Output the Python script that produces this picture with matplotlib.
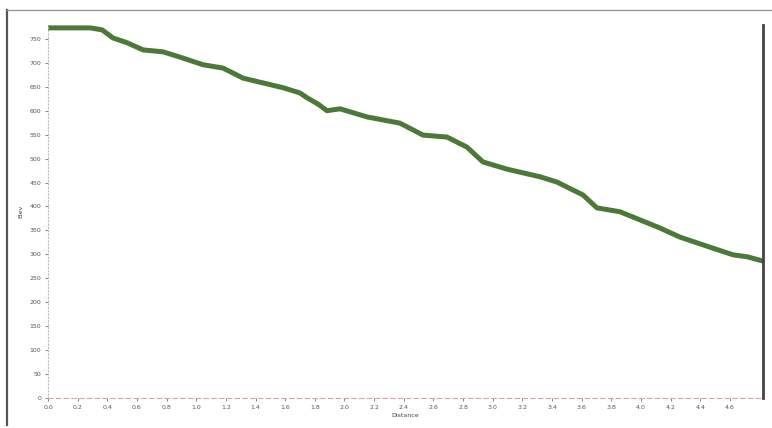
import matplotlib
matplotlib.use("Agg")
import matplotlib.pyplot as plt
from matplotlib.lines import Line2D

# Data
distance = [0.0, 0.283, 0.364, 0.438, 0.533, 0.641, 0.776, 0.890, 1.046, 1.181,
            1.316, 1.451, 1.586, 1.700, 1.747, 1.821, 1.882, 1.970, 2.152, 2.374,
            2.530, 2.691, 2.826, 2.934, 3.096, 3.319, 3.433, 3.609, 3.703, 3.858,
            4.128, 4.263, 4.465, 4.621, 4.715, 4.823]
elevation = [773, 773, 769, 752, 742, 727, 723, 712, 696, 689,
             668, 658, 648, 637, 627, 614, 600, 604, 587, 574,
             549, 545, 524, 493, 478, 462, 451, 424, 397, 389,
             355, 336, 315, 299, 295, 286]
x_ticks = [round(0.2 * i, 1) for i in range(24)]
x_tick_labels = [f"{v:.1f}" for v in x_ticks]
y_ticks = list(range(0, 800, 50))
y_tick_labels = [str(v) for v in y_ticks]

fig = plt.figure(figsize=(7.72, 4.28), dpi=100)
fig.patch.set_facecolor("white")
ax = fig.add_axes([48 / 772, 30 / 428, (763 - 48) / 772, (398 - 25) / 428])

ax.plot(distance, elevation, color="#4b7a38", lw=3.6, solid_capstyle="round",
        solid_joinstyle="round")

ax.set_xlim(0, 4.823)
ax.set_ylim(0, 779)
ax.set_xticks(x_ticks)
ax.set_xticklabels(x_tick_labels)
ax.set_yticks(y_ticks)
ax.set_yticklabels(y_tick_labels)
ax.tick_params(axis="both", labelsize=4.5, colors="#555555", length=2, width=0.5, pad=3)

ax.spines["top"].set_visible(False)
ax.spines["right"].set_color("#444444")
ax.spines["right"].set_linewidth(2.0)
ax.spines["left"].set_color("#bbbbbb")
ax.spines["left"].set_linestyle((0, (1, 2)))
ax.spines["left"].set_linewidth(0.8)
ax.spines["bottom"].set_color("#e0a0a0")
ax.spines["bottom"].set_linestyle((0, (4, 3)))
ax.spines["bottom"].set_linewidth(0.8)

ax.set_xlabel("Distance", fontsize=4.5, color="#444444", labelpad=2)
ax.set_ylabel("Elev", fontsize=4.5, color="#444444", labelpad=4)

# outer frame
fig.add_artist(Line2D([7 / 772, 7 / 772], [3 / 428, 418 / 428], transform=fig.transFigure,
                      color="#555555", lw=1.6))
fig.add_artist(Line2D([7 / 772, 1.0], [418 / 428, 418 / 428], transform=fig.transFigure,
                      color="#999999", lw=1.0))

fig.savefig("out.png", dpi=100, facecolor="white")
